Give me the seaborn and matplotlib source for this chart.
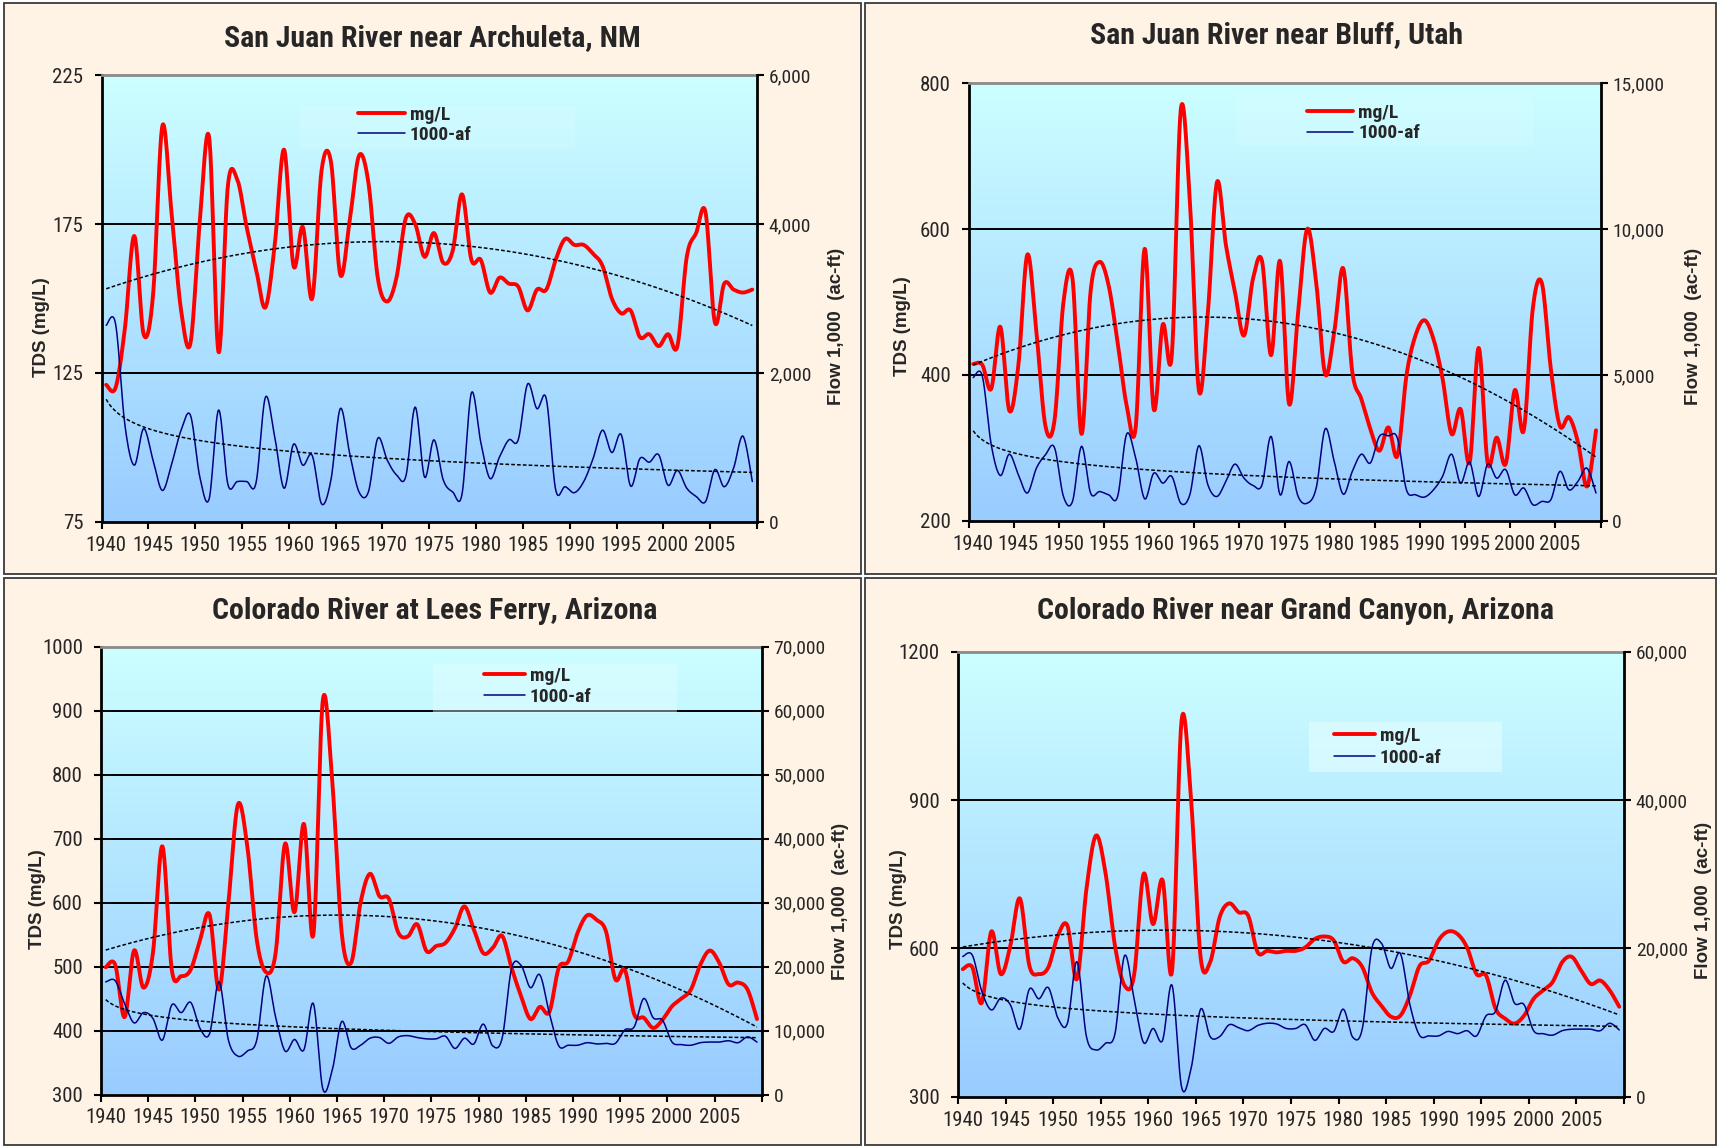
import numpy as np
import pandas as pd
import matplotlib
matplotlib.use("Agg")
import matplotlib.pyplot as plt
from matplotlib import font_manager as fm
from matplotlib.patches import Rectangle
from matplotlib.colors import LinearSegmentedColormap
import seaborn as sns

# ---------------------------------------------------------------- data
years = list(range(1940, 2010))

archuleta_tds = [121, 120, 140, 171, 138, 151, 208, 178, 146, 135,
                 176, 204, 132, 188, 190, 174, 160, 147, 168, 200,
                 161, 174, 150, 193, 196, 158, 176, 198, 189, 157,
                 149, 157, 177, 175, 164, 172, 162, 166, 185, 163,
                 163, 152, 157, 155, 154, 146, 153, 153, 163, 170,
                 168, 168, 165, 161, 150, 145, 146, 137, 138, 134,
                 138, 134, 164, 172, 179, 142, 155, 153, 152, 153]
archuleta_flow = [2640, 2660, 1300, 760, 1250, 830, 420, 780, 1230, 1430,
                  600, 310, 1500, 500, 540, 540, 520, 1670, 1140, 450,
                  1040, 760, 890, 240, 560, 1520, 920, 400, 400, 1120,
                  830, 630, 610, 1540, 600, 1100, 560, 400, 370, 1730,
                  1070, 580, 870, 1100, 1100, 1850, 1520, 1650, 430, 470,
                  390, 540, 850, 1230, 930, 1170, 480, 850, 800, 900,
                  490, 690, 450, 340, 270, 700, 470, 720, 1150, 540]

bluff_tds = [415, 414, 381, 466, 351, 413, 565, 459, 330, 337,
             500, 532, 319, 514, 555, 523, 445, 358, 328, 573,
             353, 469, 427, 764, 640, 379, 486, 664, 578, 514,
             454, 532, 556, 427, 556, 360, 486, 600, 527, 401,
             459, 546, 404, 367, 326, 296, 328, 289, 399, 454,
             475, 449, 395, 319, 353, 280, 437, 279, 314, 278,
             379, 324, 491, 526, 408, 330, 342, 308, 247, 324]
bluff_flow = [4910, 4970, 2600, 1550, 2280, 1580, 950, 1800, 2260, 2510,
              830, 660, 2550, 950, 1000, 890, 830, 2970, 2150, 750,
              1630, 1290, 1520, 600, 890, 2570, 1230, 830, 1350, 1940,
              1460, 1210, 1230, 2890, 890, 2030, 830, 600, 1120, 3150,
              2030, 910, 1690, 2280, 1980, 2890, 2910, 2830, 1060, 890,
              810, 1060, 1520, 2280, 1290, 2010, 830, 1940, 1460, 1750,
              890, 1120, 550, 660, 720, 1690, 1060, 1350, 1800, 950]

lees_tds = [499, 503, 421, 525, 467, 521, 688, 495, 485, 495,
            542, 581, 464, 600, 753, 688, 542, 491, 521, 692,
            585, 723, 550, 916, 790, 553, 506, 600, 645, 610,
            606, 553, 547, 566, 524, 532, 537, 560, 594, 558,
            521, 529, 548, 498, 454, 418, 437, 429, 498, 508,
            553, 580, 573, 555, 480, 495, 425, 420, 404, 417,
            438, 450, 464, 503, 525, 506, 472, 475, 464, 418]
lees_flow = [17600, 17800, 14200, 11200, 12800, 11900, 8500, 14000, 12800, 14400,
             10300, 9500, 17600, 8500, 6000, 6800, 8500, 18500, 12100, 6800,
             8600, 7000, 14200, 900, 3800, 11400, 7300, 7700, 8800, 8900,
             8000, 9000, 9200, 8900, 8700, 8700, 9100, 7200, 8800, 7900,
             11000, 7600, 8800, 19700, 20200, 16700, 18700, 12700, 7600, 7700,
             7700, 8100, 7900, 8000, 8000, 10100, 10600, 15000, 12000, 11600,
             8200, 7800, 7700, 8100, 8200, 8200, 8400, 8100, 9000, 8200]

canyon_tds = [558, 562, 490, 634, 548, 605, 701, 565, 548, 562,
              626, 646, 538, 720, 828, 753, 605, 525, 545, 750,
              649, 738, 555, 1061, 900, 582, 572, 663, 691, 673,
              666, 592, 595, 592, 595, 595, 602, 619, 624, 616,
              573, 580, 562, 511, 484, 462, 464, 505, 564, 575,
              616, 634, 629, 602, 548, 545, 478, 458, 448, 464,
              498, 515, 532, 572, 583, 555, 528, 535, 515, 482]
canyon_flow = [18900, 19100, 14200, 11700, 13300, 12400, 9100, 14500, 13200, 14700,
               10600, 9900, 18200, 8100, 6300, 7200, 8500, 19000, 13300, 7300,
               9200, 7600, 15000, 1300, 3800, 11800, 8100, 8100, 9700, 9300,
               8900, 9600, 9900, 9800, 9200, 9200, 9700, 7600, 9200, 8800,
               11800, 8000, 9200, 20000, 20700, 17300, 19300, 12400, 8300, 8200,
               8200, 8800, 8500, 8900, 8200, 10900, 11500, 15700, 12600, 12400,
               8900, 8500, 8300, 8900, 9100, 9100, 9100, 8900, 9900, 9000]

titles = ["San Juan River near Archuleta, NM",
          "San Juan River near Bluff, Utah",
          "Colorado River at Lees Ferry, Arizona",
          "Colorado River near Grand Canyon, Arizona"]

tds_ticks_archuleta = [75, 125, 175, 225]
flow_ticks_archuleta = [0, 2000, 4000, 6000]
tds_ticks_bluff = [200, 400, 600, 800]
flow_ticks_bluff = [0, 5000, 10000, 15000]
tds_ticks_lees = [300, 400, 500, 600, 700, 800, 900, 1000]
flow_ticks_lees = [0, 10000, 20000, 30000, 40000, 50000, 60000, 70000]
tds_ticks_canyon = [300, 600, 900, 1200]
flow_ticks_canyon = [0, 20000, 40000, 60000]

year_labels = list(range(1940, 2006, 5))
series_labels = ["mg/L", "1000-af"]
left_axis_label = "TDS (mg/L)"
right_axis_label = "Flow 1,000  (ac-ft)"

# ---------------------------------------------------------------- style
sns.set_style("white")
installed = {f.name for f in fm.fontManager.ttflist}


def pick(cands, default="DejaVu Sans"):
    for c in cands:
        if c in installed:
            return c
    return default


NARROW = pick(["Liberation Sans Narrow", "Arial Narrow", "Roboto Condensed",
               "Liberation Sans"])
WIDE = pick(["Liberation Sans", "Arial"])
shrink = 1.0 if "Narrow" in NARROW or "Condensed" in NARROW else 0.84
plt.rcParams["font.family"] = [NARROW, "DejaVu Sans"]

W, H = 1719, 1147
fig = plt.figure(figsize=(W / 100, H / 100), dpi=100)
fig.patch.set_facecolor("white")

PANEL_BG = "#FFF3E6"
bg_cmap = LinearSegmentedColormap.from_list("plotbg", ["#99CCFF", "#CCFFFF"])


def fx(px):
    return px / W


def fy(py):
    return 1 - py / H


def smooth(x, y, n=24):
    """Smoothed path through the points (cubic Bezier, Catmull-Rom tangents)."""
    P = np.column_stack([np.asarray(x, float), np.asarray(y, float)])
    Q = np.vstack([P[0], P, P[-1]])
    t = np.linspace(0, 1, n, endpoint=False)[:, None]
    segs = []
    for i in range(1, len(Q) - 2):
        p0, p1, p2, p3 = Q[i - 1], Q[i], Q[i + 1], Q[i + 2]
        c1 = p1 + (p2 - p0) / 6.0
        c2 = p2 - (p3 - p1) / 6.0
        segs.append((1 - t) ** 3 * p1 + 3 * (1 - t) ** 2 * t * c1
                    + 3 * (1 - t) * t ** 2 * c2 + t ** 3 * p2)
    segs.append(P[-1][None, :])
    s = np.vstack(segs)
    return s[:, 0], s[:, 1]


# panel frames
for (x0, y0, x1, y1) in [(4, 3, 861, 574), (865, 3, 1716, 574),
                         (4, 578, 861, 1145), (865, 578, 1716, 1145)]:
    fig.add_artist(Rectangle((fx(x0), fy(y1)), (x1 - x0) / W, (y1 - y0) / H,
                             transform=fig.transFigure, facecolor=PANEL_BG,
                             edgecolor="#3a3a3a", lw=1.3, zorder=0))


def panel(box, title, title_xy, tds, flow, tds_ticks, flow_ticks,
          ylab_l, ylab_r, leg_box, leg_line, leg_rows, leg_alpha):
    x0, y0, x1, y1 = box
    ax = fig.add_axes([fx(x0), fy(y1), (x1 - x0) / W, (y1 - y0) / H])
    ax.set_facecolor("none")
    ax.imshow(np.linspace(1, 0, 256)[:, None], cmap=bg_cmap, aspect="auto",
              extent=[0, 1, 0, 1], transform=ax.transAxes, zorder=0,
              interpolation="bilinear")
    for v in tds_ticks[1:-1]:
        ax.axhline(v, color="black", lw=1.4, zorder=1)

    idx = np.arange(1, len(years) + 1)
    xs, ys = smooth(years, tds)
    red = pd.DataFrame({"year": xs, "tds": ys})
    sns.lineplot(data=red, x="year", y="tds", ax=ax, color="#FF0000", lw=2.8,
                 sort=False, estimator=None, zorder=3)
    h_red = ax.get_lines()[-1]
    c2 = np.polyfit(idx, tds, 2)
    tt = np.linspace(1, len(years), 400)
    ax.plot(years[0] - 1 + tt, np.polyval(c2, tt), color="black", lw=1.1,
            ls=(0, (2.4, 1.4)), zorder=3)

    ax2 = ax.twinx()
    xb, yb = smooth(years, flow)
    blue = pd.DataFrame({"year": xb, "flow": yb})
    sns.lineplot(data=blue, x="year", y="flow", ax=ax2, color="#000080",
                 lw=1.1, sort=False, estimator=None, zorder=3)
    h_blue = ax2.get_lines()[-1]
    cl = np.polyfit(np.log(idx), flow, 1)
    ax2.plot(years[0] - 1 + tt, np.polyval(cl, np.log(tt)), color="black",
             lw=1.1, ls=(0, (2.4, 1.4)), zorder=3)

    ax.set_xlim(years[0] - 0.5, years[-1] + 0.5)
    ax.set_ylim(tds_ticks[0], tds_ticks[-1])
    ax2.set_ylim(flow_ticks[0], flow_ticks[-1])
    for a in (ax, ax2):
        a.set_xlabel("")
        a.set_ylabel("")

    # category-style x axis: ticks between years, labels centred on years
    ax.set_xticks(np.arange(years[0] - 0.5, years[-1] + 1, 5))
    ax.set_xticks(year_labels, minor=True)
    ax.set_xticklabels([str(y) for y in year_labels], minor=True)
    ax.tick_params(axis="x", which="major", direction="out", length=5,
                   width=1.5, color="black", labelbottom=False, bottom=True)
    ax.tick_params(axis="x", which="minor", length=0, pad=10,
                   labelsize=15 * shrink, bottom=True)
    ax.set_yticks(tds_ticks)
    ax.set_yticklabels([str(v) for v in tds_ticks])
    ax.tick_params(axis="y", direction="out", length=5, width=1.5, pad=8,
                   labelsize=15 * shrink, left=True, color="black")
    ax2.set_yticks(flow_ticks)
    ax2.set_yticklabels([f"{v:,}" for v in flow_ticks])
    ax2.tick_params(axis="y", direction="out", length=5, width=1.5, pad=3.5,
                    labelsize=14 * shrink, right=True, color="black")

    for s in ("left", "bottom"):
        ax.spines[s].set_color("black")
        ax.spines[s].set_linewidth(2.0)
    ax.spines["right"].set_visible(False)
    ax.spines["top"].set_color("#8a8a8a")
    ax.spines["top"].set_linewidth(2.0)
    for s in ("left", "bottom", "top"):
        ax2.spines[s].set_visible(False)
    ax2.spines["right"].set_color("black")
    ax2.spines["right"].set_linewidth(2.0)

    # legend with its pale box
    w, h = x1 - x0, y1 - y0
    bx0, by0, bx1, by1 = leg_box
    ax2.add_patch(Rectangle(((bx0 - x0) / w, 1 - (by1 - y0) / h),
                            (bx1 - bx0) / w, (by1 - by0) / h,
                            transform=ax2.transAxes, facecolor="#E8FFFF",
                            alpha=leg_alpha, edgecolor="none", zorder=4))
    lx0, lx1 = leg_line
    r0, r1 = leg_rows
    fs = 14 * shrink
    fs_px = fs * 100 / 72
    ax2.legend([h_red, h_blue], series_labels, loc="center left",
               bbox_to_anchor=((lx0 - x0) / w, 1 - ((r0 + r1) / 2 - y0) / h),
               frameon=False, borderpad=0, borderaxespad=0,
               handlelength=(lx1 - lx0) / fs_px, handletextpad=0.25,
               labelspacing=(r1 - r0) / fs_px - 1.05,
               prop={"family": [NARROW, "DejaVu Sans"], "weight": "bold",
                     "size": fs})

    fig.text(fx(title_xy[0]), fy(title_xy[1]), title, ha="center",
             va="center", fontsize=21.5 * shrink, fontweight="bold",
             family=[NARROW, "DejaVu Sans"])
    fig.text(fx(ylab_l[0]), fy(ylab_l[1]), left_axis_label, rotation=90,
             ha="center", va="center", fontsize=13.5, fontweight="bold",
             family=[WIDE, "DejaVu Sans"])
    fig.text(fx(ylab_r[0]), fy(ylab_r[1]), right_axis_label, rotation=90,
             ha="center", va="center", fontsize=13.5, fontweight="bold",
             family=[WIDE, "DejaVu Sans"])


panel((101.5, 75.3, 757, 521.7), titles[0], (432, 38),
      archuleta_tds, archuleta_flow, tds_ticks_archuleta, flow_ticks_archuleta,
      (42, 327), (836, 326), (300, 106, 575, 148.5), (357.6, 404.8),
      (113.7, 136.4), 0.18)
panel((968.7, 83.3, 1600.5, 520.7), titles[1], (1277, 35),
      bluff_tds, bluff_flow, tds_ticks_bluff, flow_ticks_bluff,
      (902, 326), (1693, 326), (1236, 90, 1533, 146), (1307, 1353.3),
      (111.3, 134.7), 0.18)
panel((101, 646.7, 761.7, 1094.5), titles[2], (435, 611),
      lees_tds, lees_flow, tds_ticks_lees, flow_ticks_lees,
      (38, 899), (840, 901), (433, 664, 677, 712.5), (484.3, 525),
      (674.3, 698.5), 0.4)
panel((958, 651.7, 1624, 1096.7), titles[3], (1295, 611),
      canyon_tds, canyon_flow, tds_ticks_canyon, flow_ticks_canyon,
      (898, 899), (1703, 900), (1308.7, 722, 1501.7, 772), (1334.3, 1375),
      (734.3, 759), 0.55)

fig.savefig("out.png", dpi=100)
